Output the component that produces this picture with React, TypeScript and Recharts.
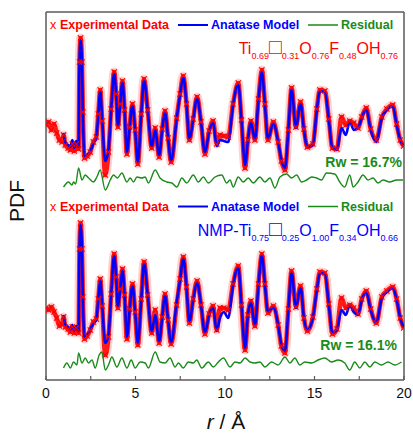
import React from 'react';
import { LineChart, Line, XAxis, YAxis, ReferenceLine } from 'recharts';

const FONT = '"Liberation Sans", Arial, Helvetica, sans-serif';
const RED = '#ff0000';
const BLUE = '#0000ff';
const GREEN = '#1a8a1a';
const AXIS = '#5a5a5a';

// r grid (Å) of the fitted model
const fitR = [0.98, 1.08, 1.24, 1.36, 1.47, 1.58, 1.69, 1.82, 1.87, 1.93,
  2.01, 2.06, 2.15, 2.30, 2.47, 2.65, 2.81, 2.92, 3.03, 3.14,
  3.31, 3.49, 3.64, 3.81, 3.92, 4.02, 4.14, 4.27, 4.39, 4.52,
  4.67, 4.83, 4.98, 5.13, 5.32, 5.48, 5.68, 5.91, 6.10, 6.32,
  6.49, 6.65, 6.82, 6.99, 7.30, 7.49, 7.67, 7.85, 8.01, 8.22,
  8.44, 8.66, 8.88, 9.11, 9.33, 9.54, 9.72, 9.94, 10.18, 10.45,
  10.74, 10.92, 11.12, 11.28, 11.45, 11.67, 11.87, 12.06, 12.23, 12.40,
  12.70, 12.97, 13.15, 13.35, 13.54, 13.72, 13.96, 14.22, 14.41, 14.60,
  14.91, 15.13, 15.30, 15.58, 15.80, 16.00, 16.25, 16.51, 16.75, 16.97,
  17.19, 17.43, 17.64, 17.89, 18.14, 18.45, 18.76, 19.04, 19.37, 19.59,
  19.79, 19.98];

// extra low-r experimental points
const lowR = [0, 0.15, 0.3, 0.45, 0.6, 0.75, 0.9];
const dataR = [...lowR, ...fitR];

// Top panel (offset PDF, arbitrary units)
const topFitG = [247, 237, 235, 233, 240, 232, 239, 233, 317, 340,
  317, 267, 223, 225, 228, 237, 242, 265, 289, 260,
  219, 230, 270, 307, 285, 254, 275, 298, 270, 228,
  252, 275, 250, 218, 265, 300, 270, 233, 250, 224,
  250, 268, 242, 219, 261, 285, 303, 275, 240, 260,
  282, 258, 227, 248, 258, 234, 240, 239, 238, 275,
  296, 260, 215, 240, 258, 240, 280, 308, 275, 241,
  257, 238, 220, 212, 250, 291, 252, 277, 250, 233,
  235, 270, 289, 288, 260, 232, 230, 252, 245, 259,
  250, 252, 262, 271, 250, 238, 262, 270, 274, 255,
  240, 234];

const topDataG = [255, 258, 250, 256, 247, 240, 238,
  245, 235, 232, 230, 236, 229, 236, 231, 318, 342,
  318, 268, 222, 224, 228, 238, 243, 266, 290, 259,
  205, 228, 271, 308, 286, 253, 276, 299, 270, 226,
  253, 276, 250, 216, 266, 301, 270, 232, 252, 223,
  251, 269, 242, 218, 262, 286, 304, 276, 240, 261,
  283, 258, 226, 249, 259, 236, 245, 244, 243, 276,
  297, 260, 212, 240, 259, 240, 281, 310, 276, 240,
  258, 238, 219, 210, 250, 292, 253, 278, 251, 233,
  236, 271, 290, 289, 261, 232, 231, 263, 255, 259,
  257, 252, 263, 272, 251, 240, 263, 271, 275, 256,
  240, 234];

const topResR = [0.98, 1.26, 1.45, 1.54, 1.66, 1.82, 2.01, 2.19, 2.38, 2.65, 2.84, 3.03, 3.31, 3.59, 3.77, 3.99,
  4.24, 4.52, 4.70, 4.89, 5.08, 5.35, 5.54, 5.72, 6.10, 6.37, 6.75, 7.03, 7.31, 7.59, 7.86, 8.23, 8.51, 8.79,
  9.07, 9.44, 9.82, 10.09, 10.28, 10.46, 10.74, 11.02, 11.30, 11.58, 11.95, 12.23, 12.51, 12.79, 13.07, 13.44,
  13.72, 14.00, 14.28, 14.56, 14.84, 15.11, 15.39, 15.67, 16.13, 16.41, 16.69, 16.97, 17.16, 17.43, 17.71,
  17.99, 18.27, 18.55, 18.83, 19.20, 19.58, 19.94];
const topResG = [193, 198, 195, 198, 196, 212, 200, 205, 202, 198, 203, 210, 190, 200, 205, 202,
  207, 198, 202, 198, 203, 202, 203, 197, 210, 202, 198, 197, 193, 202, 197, 205, 198, 203,
  197, 203, 205, 197, 200, 193, 203, 198, 202, 197, 203, 198, 202, 192, 203, 206,
  202, 205, 198, 200, 203, 202, 200, 207, 206, 198, 193, 205, 193, 198, 205,
  200, 202, 197, 200, 198, 200, 200];

// Bottom panel
const botFitG = [65, 55, 53, 50, 55, 49, 54, 48, 130, 155,
  130, 82, 42, 45, 50, 57, 60, 80, 100, 75,
  37, 45, 85, 125, 102, 73, 90, 110, 85, 43,
  70, 95, 68, 37, 80, 117, 85, 48, 65, 38,
  62, 85, 60, 37, 78, 100, 122, 92, 58, 80,
  98, 75, 47, 65, 73, 49, 62, 68, 62, 95,
  113, 75, 32, 65, 78, 54, 95, 125, 95, 68,
  73, 55, 35, 29, 70, 108, 72, 93, 62, 50,
  62, 90, 107, 106, 75, 47, 50, 70, 65, 75,
  68, 65, 80, 88, 70, 57, 82, 88, 92, 80,
  62, 52];

const botDataG = [72, 70, 73, 68, 62, 54, 56,
  63, 53, 51, 48, 53, 47, 52, 47, 131, 157,
  131, 83, 41, 44, 50, 58, 61, 81, 101, 74,
  25, 43, 86, 126, 103, 72, 91, 111, 85, 41,
  71, 96, 68, 35, 81, 118, 85, 47, 70, 37,
  63, 86, 60, 36, 75, 101, 123, 93, 57, 81,
  99, 75, 46, 66, 74, 50, 72, 72, 70, 96,
  114, 75, 30, 65, 79, 54, 96, 126, 96, 67,
  74, 55, 34, 27, 71, 109, 73, 94, 62, 49,
  63, 91, 108, 107, 76, 46, 51, 82, 72, 75,
  72, 66, 81, 89, 71, 57, 83, 89, 93, 81,
  62, 52];

const botResR = [0.98, 1.17, 1.36, 1.54, 1.73, 1.82, 2.01, 2.19, 2.38, 2.57, 2.75, 2.97, 3.12, 3.31, 3.49, 3.68,
  3.96, 4.24, 4.52, 4.76, 4.98, 5.26, 5.54, 5.72, 6.10, 6.37, 6.65, 6.93, 7.21, 7.40, 7.67, 7.95, 8.23, 8.42,
  8.70, 9.07, 9.35, 9.63, 9.91, 10.28, 10.56, 10.84, 11.12, 11.40, 11.67, 11.95, 12.23, 12.60, 12.97, 13.35,
  13.63, 13.90, 14.18, 14.46, 14.84, 15.20, 15.58, 15.95, 16.32, 16.69, 16.97, 17.25, 17.53, 17.81, 18.09,
  18.37, 18.74, 19.11, 19.48, 19.86];
const botResG = [12, 17, 12, 18, 15, 27, 17, 22, 17, 20, 12, 25, 28, 10, 15, 23,
  13, 22, 12, 20, 12, 18, 17, 12, 28, 18, 17, 22, 13, 17, 12, 18, 17, 20,
  12, 18, 13, 18, 22, 13, 18, 17, 22, 18, 17, 18, 13, 18, 15, 23,
  17, 22, 15, 18, 17, 20, 22, 18, 20, 17, 10, 18, 12, 18, 13,
  18, 15, 18, 15, 18];

const xTicks = [0, 2.5, 5, 7.5, 10, 12.5, 15, 17.5, 20];
const xLabels = [0, 5, 10, 15, 20];

const toRows = (rs: number[], gs: number[]) => rs.map((r, i) => ({ r, g: gs[i] }));

const topFit = toRows(fitR, topFitG);
const topData = toRows(dataR, topDataG);
const topRes = toRows(topResR, topResG);
const botFit = toRows(fitR, botFitG);
const botData = toRows(dataR, botDataG);
const botRes = toRows(botResR, botResG);

const XDot = (props: any) => {
  const { cx, cy, index } = props;
  if (cx == null || cy == null) return <g key={`n${index}`} />;
  const s = 2.6;
  return (
    <path
      key={`x${index}-${cx}`}
      d={`M${cx - s},${cy - s}L${cx + s},${cy + s}M${cx - s},${cy + s}L${cx + s},${cy - s}`}
      stroke={RED}
      strokeWidth={1.3}
      fill="none"
    />
  );
};

const XTick = (props: any) => {
  const { x, y, payload } = props;
  const v = payload.value;
  const show = xLabels.includes(v);
  return (
    <g>
      <line x1={x} y1={y} x2={x} y2={y - 4} stroke={AXIS} strokeWidth={1.2} />
      {show && (
        <text x={x} y={y + 18} textAnchor="middle" fontSize={14} fontFamily={FONT} fill="#111">
          {v}
        </text>
      )}
    </g>
  );
};

const dataLines = (rows: any[], key: string) => [
  <Line key={key + 'h'} data={rows} dataKey="g" type="monotone" stroke="#ff9a9a" strokeOpacity={0.45}
    strokeWidth={9} dot={false} isAnimationActive={false} />,
  <Line key={key + 'c'} data={rows} dataKey="g" type="monotone" stroke="#ff1a1a"
    strokeWidth={4.5} dot={XDot} isAnimationActive={false} />,
];

const Sub = ({ children }: { children: string }) => (
  <tspan fontSize={9} dy={5}>{children}</tspan>
);
const Main = ({ children }: { children: string }) => (
  <tspan fontSize={16} dy={-5}>{children}</tspan>
);
const Box = () => (
  <tspan fontSize={21} dy={-5}>□</tspan>
);

const Legend = ({ y }: { y: number }) => (
  <g fontFamily={FONT} fontSize={12.5}>
    <text x={50} y={y} fill={RED}>x</text>
    <text x={60} y={y} fill={RED} fontWeight="bold">Experimental Data</text>
    <line x1={178} x2={208} y1={y - 4} y2={y - 4} stroke={BLUE} strokeWidth={2} />
    <text x={211} y={y} fill={BLUE} fontWeight="bold">Anatase Model</text>
    <line x1={308} x2={338} y1={y - 4} y2={y - 4} stroke={GREEN} strokeWidth={1.5} />
    <text x={341} y={y} fill={GREEN} fontWeight="bold">Residual</text>
  </g>
);

export default function App() {
  return (
    <div style={{ position: 'absolute', left: 0, top: 0, width: 413, height: 433, background: '#fff' }}>
      <LineChart width={413} height={433} margin={{ top: 12, right: 9, bottom: 0, left: 0 }}>
        <XAxis
          type="number"
          dataKey="r"
          domain={[0, 20]}
          ticks={xTicks}
          interval={0}
          allowDataOverflow
          height={53}
          tickLine={false}
          tickSize={0}
          tickMargin={0}
          tick={<XTick />}
          stroke={AXIS}
          strokeWidth={1.5}
        />
        <YAxis
          type="number"
          domain={[0, 368]}
          allowDataOverflow
          width={46}
          tick={false}
          tickLine={false}
          stroke={AXIS}
          strokeWidth={1.5}
        />
        <ReferenceLine y={368} stroke={AXIS} strokeWidth={1.5} />
        <ReferenceLine x={20} stroke={AXIS} strokeWidth={1.5} />
        {dataLines(topData, 'top')}
        {dataLines(botData, 'bot')}
        <Line data={topFit} dataKey="g" type="monotone" stroke={BLUE} strokeWidth={2.6} dot={false} isAnimationActive={false} />
        <Line data={botFit} dataKey="g" type="monotone" stroke={BLUE} strokeWidth={2.6} dot={false} isAnimationActive={false} />
        <Line data={topRes} dataKey="g" type="monotone" stroke={GREEN} strokeWidth={1.4} dot={false} isAnimationActive={false} />
        <Line data={botRes} dataKey="g" type="monotone" stroke={GREEN} strokeWidth={1.4} dot={false} isAnimationActive={false} />
      </LineChart>
      <svg width={413} height={433} style={{ position: 'absolute', left: 0, top: 0, pointerEvents: 'none' }}>
        <Legend y={29} />
        <Legend y={210.5} />
        <text x={398} y={54} textAnchor="end" fill={RED} fontFamily={FONT} fontSize={16}>
          Ti<Sub>0.69</Sub><Box /><Sub>0.31</Sub><Main>O</Main><Sub>0.76</Sub><Main>F</Main><Sub>0.48</Sub><Main>OH</Main><Sub>0.76</Sub>
        </text>
        <text x={398} y={236} textAnchor="end" fill={BLUE} fontFamily={FONT} fontSize={16}>
          NMP-Ti<Sub>0.75</Sub><Box /><Sub>0.25</Sub><Main>O</Main><Sub>1.00</Sub><Main>F</Main><Sub>0.34</Sub><Main>OH</Main><Sub>0.66</Sub>
        </text>
        <text x={402} y={167} textAnchor="end" fill={GREEN} fontFamily={FONT} fontSize={14} fontWeight="bold">Rw = 16.7%</text>
        <text x={397} y={349.5} textAnchor="end" fill={GREEN} fontFamily={FONT} fontSize={14} fontWeight="bold">Rw = 16.1%</text>
        <text transform="translate(24,201) rotate(-90)" textAnchor="middle" fontFamily={FONT} fontSize={21} fill="#111">PDF</text>
        <text x={226} y={429} textAnchor="middle" fontFamily={FONT} fontSize={21} fill="#111">
          <tspan fontStyle="italic">r</tspan> / Å
        </text>
      </svg>
    </div>
  );
}
